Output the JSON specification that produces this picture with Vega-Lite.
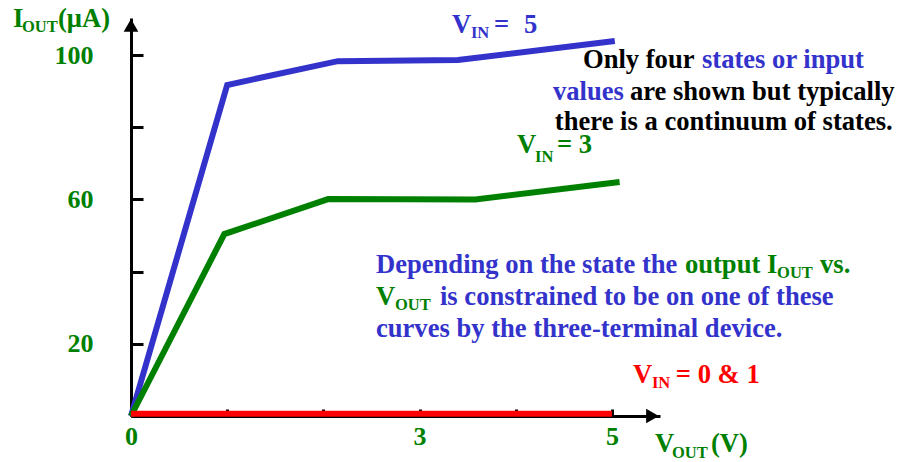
{
  "$schema": "https://vega.github.io/schema/vega-lite/v6.json",
  "width": 529,
  "height": 398,
  "autosize": "none",
  "padding": {"left": 131, "top": 18, "right": 241, "bottom": 46},
  "background": "white",
  "config": {"view": {"stroke": null}},
  "datasets": {
    "curves": [
      {"curve": "VIN=5", "v": 0, "i": 0},
      {"curve": "VIN=5", "v": 1.0, "i": 91.7},
      {"curve": "VIN=5", "v": 2.15, "i": 98.3},
      {"curve": "VIN=5", "v": 3.4, "i": 98.6},
      {"curve": "VIN=5", "v": 5.03, "i": 103.9},
      {"curve": "VIN=3", "v": 0, "i": 0},
      {"curve": "VIN=3", "v": 0.97, "i": 50.4},
      {"curve": "VIN=3", "v": 2.05, "i": 60.1},
      {"curve": "VIN=3", "v": 3.58, "i": 60.0},
      {"curve": "VIN=3", "v": 5.08, "i": 64.8},
      {"curve": "VIN=0&1", "v": 0, "i": 0.6},
      {"curve": "VIN=0&1", "v": 5.0, "i": 0.6}
    ],
    "arrows": [
      {"dir": "up", "v": 0, "i": 108.2},
      {"dir": "right", "v": 5.422, "i": 0}
    ],
    "bigText": [
      {"t": "I", "ink": "green", "v": -1.227, "i": 107.76},
      {"t": "(μA)", "ink": "green", "v": -0.759, "i": 107.76},
      {"t": "V", "ink": "green", "v": 5.447, "i": -9.97},
      {"t": "(V)", "ink": "green", "v": 6.029, "i": -9.97},
      {"t": "V", "ink": "blue", "v": 3.337, "i": 106.09},
      {"t": "=", "ink": "blue", "v": 3.773, "i": 106.09},
      {"t": "5", "ink": "blue", "v": 4.085, "i": 106.09},
      {"t": "V", "ink": "green", "v": 4.012, "i": 72.85},
      {"t": "= 3", "ink": "green", "v": 4.428, "i": 72.85},
      {"t": "V", "ink": "red", "v": 5.218, "i": 9.14},
      {"t": "= 0 & 1", "ink": "red", "v": 5.665, "i": 9.14},
      {"t": "Depending on the state the", "ink": "blue", "v": 2.547, "i": 39.61},
      {"t": "output I", "ink": "green", "v": 5.759, "i": 39.61},
      {"t": "vs.", "ink": "green", "v": 7.164, "i": 39.61},
      {"t": "V", "ink": "green", "v": 2.547, "i": 30.75},
      {"t": "is constrained to be on one of these", "ink": "blue", "v": 3.212, "i": 30.75},
      {"t": "curves by the three-terminal device.", "ink": "blue", "v": 2.547, "i": 21.88},
      {"t": "Only four", "ink": "black", "v": 4.699, "i": 96.4},
      {"t": "states or input", "ink": "blue", "v": 5.936, "i": 96.4},
      {"t": "values", "ink": "blue", "v": 4.387, "i": 87.53},
      {"t": "are shown but typically", "ink": "black", "v": 5.187, "i": 87.53},
      {"t": "there is a continuum of states.", "ink": "black", "v": 4.407, "i": 79.22}
    ],
    "subText": [
      {"t": "OUT", "ink": "green", "v": -1.133, "i": 106.37},
      {"t": "OUT", "ink": "green", "v": 5.624, "i": -11.63},
      {"t": "IN", "ink": "blue", "v": 3.534, "i": 104.71},
      {"t": "IN", "ink": "green", "v": 4.2, "i": 70.36},
      {"t": "IN", "ink": "red", "v": 5.416, "i": 7.76},
      {"t": "OUT", "ink": "green", "v": 6.717, "i": 38.23},
      {"t": "OUT", "ink": "green", "v": 2.744, "i": 29.36}
    ]
  },
  "layer": [
    {
      "data": {"name": "curves"},
      "mark": {"type": "line", "strokeWidth": 6, "clip": false},
      "encoding": {
        "x": {
          "field": "v", "type": "quantitative",
          "scale": {"domain": [0, 5.5], "nice": false, "zero": false},
          "axis": {
            "values": [0, 1, 2, 3, 4, 5],
            "format": "d",
            "labelExpr": "datum.value == 0 || datum.value == 3 || datum.value == 5 ? datum.label : ''",
            "title": null, "grid": false,
            "domainColor": "black", "domainWidth": 3,
            "tickColor": "black", "tickWidth": 3, "tickSize": -7,
            "labelFont": "Liberation Serif", "labelFontWeight": "bold",
            "labelFontSize": 26, "labelColor": "#008000",
            "labelPadding": 14, "labelFlush": false, "labelOverlap": false
          }
        },
        "y": {
          "field": "i", "type": "quantitative",
          "scale": {"domain": [0, 110.25], "nice": false, "zero": false},
          "axis": {
            "values": [0, 20, 40, 60, 80, 100],
            "labelExpr": "datum.value == 20 || datum.value == 60 || datum.value == 100 ? datum.label : ''",
            "title": null, "grid": false,
            "domainColor": "black", "domainWidth": 3,
            "tickColor": "black", "tickWidth": 3, "tickSize": -12,
            "labelFont": "Liberation Serif", "labelFontWeight": "bold",
            "labelFontSize": 26, "labelColor": "#008000",
            "labelPadding": 50, "labelFlush": false, "labelOverlap": false
          }
        },
        "color": {
          "field": "curve", "type": "nominal",
          "scale": {"domain": ["VIN=5", "VIN=3", "VIN=0&1"], "range": ["#3333CC", "#008000", "#FF0000"]},
          "legend": null
        }
      }
    },
    {
      "data": {"name": "arrows"},
      "mark": {"type": "point", "filled": true, "size": 215, "opacity": 1, "color": "black", "clip": false},
      "encoding": {
        "x": {"field": "v", "type": "quantitative"},
        "y": {"field": "i", "type": "quantitative"},
        "shape": {
          "field": "dir", "type": "nominal",
          "scale": {"domain": ["up", "right"], "range": ["triangle-up", "triangle-right"]},
          "legend": null
        }
      }
    },
    {
      "data": {"name": "bigText"},
      "mark": {"type": "text", "align": "left", "baseline": "alphabetic", "font": "Liberation Serif", "fontWeight": "bold", "fontSize": 26.6, "clip": false},
      "encoding": {
        "x": {"field": "v", "type": "quantitative"},
        "y": {"field": "i", "type": "quantitative"},
        "text": {"field": "t"},
        "color": {
          "field": "ink", "type": "nominal",
          "scale": {"domain": ["blue", "green", "red", "black"], "range": ["#3333CC", "#008000", "#FF0000", "#000000"]},
          "legend": null
        }
      }
    },
    {
      "data": {"name": "subText"},
      "mark": {"type": "text", "align": "left", "baseline": "alphabetic", "font": "Liberation Serif", "fontWeight": "bold", "fontSize": 16.5, "clip": false},
      "encoding": {
        "x": {"field": "v", "type": "quantitative"},
        "y": {"field": "i", "type": "quantitative"},
        "text": {"field": "t"},
        "color": {
          "field": "ink", "type": "nominal",
          "scale": {"domain": ["blue", "green", "red", "black"], "range": ["#3333CC", "#008000", "#FF0000", "#000000"]},
          "legend": null
        }
      }
    }
  ],
  "resolve": {"scale": {"color": "independent"}}
}
